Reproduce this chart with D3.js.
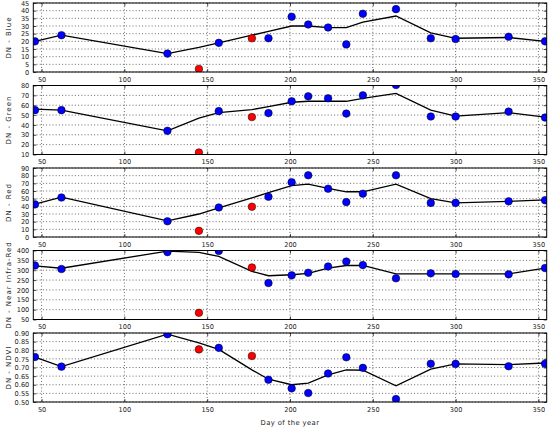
<!DOCTYPE html>
<html>
<head>
<meta charset="utf-8">
<script src="https://cdn.jsdelivr.net/npm/d3@7"></script>
<style>
  body { margin: 0; background: #fff; }
  svg { display: block; font-family: "DejaVu Sans", sans-serif; }
</style>
</head>
<body>
<svg id="grafico"></svg>
<script>
// dias de aquisição (os vermelhos são as cenas descartadas)
const days = [46, 62, 126, 145, 157, 177, 187, 201, 211, 223, 234, 244, 264, 285, 300, 332, 354];
const redDays = [145, 177];

// valores observados e a curva ajustada de cada banda
const blue = [20, 24, 12, 2, 19, 22, 22, 36, 31, 29, 18, 38, 41, 22, 21.5, 23, 20];
const blueFit = [20, 24, 12, 16, 19, 24, 26.5, 30, 30, 29, 29, 32.5, 36.5, 25.5, 22, 22.5, 20];
const green = [55, 55, 34, 12, 54, 48, 52, 64, 69, 67, 51.5, 70, 80.5, 48.5, 48.5, 53.5, 47.5];
const greenFit = [56, 55, 34, 47, 52.5, 55.5, 58.5, 63, 64, 64, 64, 67, 72, 55, 49, 52.5, 48];
const red = [42.5, 51.5, 20.5, 8, 38.5, 39.5, 52.5, 71.5, 80.5, 63, 45.5, 56.5, 80.5, 44.5, 44.5, 46.5, 48];
const redFit = [43, 52, 21, 30, 38, 51, 58, 67, 69, 63.5, 59, 59, 69, 50, 44.5, 46.5, 48.5];
const nir = [324, 306, 392, 84, 398, 314, 235, 274, 287, 319, 344, 326, 259, 284, 281, 279, 311];
const nirFit = [322, 310, 397, 390, 370, 294, 272, 277, 284, 311, 324, 324, 281, 281, 281, 281, 311];
const ndvi = [0.761, 0.705, 0.893, 0.805, 0.814, 0.767, 0.629, 0.579, 0.552, 0.665, 0.759, 0.698, 0.517, 0.722, 0.721, 0.707, 0.722];
const ndviFit = [0.76, 0.705, 0.893, 0.843, 0.805, 0.686, 0.632, 0.60, 0.609, 0.657, 0.686, 0.684, 0.594, 0.69, 0.721, 0.717, 0.726];

const xTicks = [50, 100, 150, 200, 250, 300, 350];

const paineis = [
  { nome: "DN - Blue", obs: blue, fit: blueFit, dom: [0, 45], passo: 5, fmt: d3.format("d") },
  { nome: "DN - Green", obs: green, fit: greenFit, dom: [10, 80], passo: 10, fmt: d3.format("d") },
  { nome: "DN - Red", obs: red, fit: redFit, dom: [0, 90], passo: 10, fmt: d3.format("d") },
  { nome: "DN - Near Infra-Red", obs: nir, fit: nirFit, dom: [50, 400], passo: 50, fmt: d3.format("d") },
  { nome: "DN - NDVI", obs: ndvi, fit: ndviFit, dom: [0.5, 0.9], passo: 0.05, fmt: d3.format(".2f") }
];

const width = 550, height = 427;
const left = 33.3, right = 546.7;
const topo0 = 3, passoV = 82.5, altura = 69;

let svg = d3.select("#grafico")
  .attr("width", width)
  .attr("height", height);

let x = d3.scaleLinear().domain([45, 355]).range([left, right]);

paineis.forEach(function(p, i) {
  let topo = topo0 + i * passoV;
  let base = topo + altura;
  let y = d3.scaleLinear().domain(p.dom).range([base, topo]);
  let n = Math.round((p.dom[1] - p.dom[0]) / p.passo);
  let yTicks = d3.range(n + 1).map(k => p.dom[0] + k * p.passo);

  let g = svg.append("g");

  // clip para os marcadores
  g.append("clipPath").attr("id", "clip" + i)
    .append("rect")
    .attr("x", left).attr("y", topo)
    .attr("width", right - left).attr("height", altura);

  // grade pontilhada
  g.selectAll(".gx").data(xTicks).enter().append("line")
    .attr("x1", d => x(d)).attr("x2", d => x(d))
    .attr("y1", topo).attr("y2", base)
    .attr("stroke", "#000").attr("stroke-width", 0.6)
    .attr("stroke-dasharray", "1,2.2");
  g.selectAll(".gy").data(yTicks).enter().append("line")
    .attr("x1", left).attr("x2", right)
    .attr("y1", d => y(d)).attr("y2", d => y(d))
    .attr("stroke", "#000").attr("stroke-width", 0.6)
    .attr("stroke-dasharray", "1,2.2");

  // eixos com ticks para dentro
  g.append("g").attr("transform", "translate(0," + base + ")")
    .call(d3.axisBottom(x).tickValues(xTicks).tickSizeInner(-3).tickSizeOuter(0).tickPadding(5));
  g.append("g").attr("transform", "translate(0," + topo + ")")
    .call(d3.axisTop(x).tickValues(xTicks).tickSizeInner(-3).tickSizeOuter(0).tickFormat(""));
  g.append("g").attr("transform", "translate(" + left + ",0)")
    .call(d3.axisLeft(y).tickValues(yTicks).tickFormat(p.fmt).tickSizeInner(-3).tickSizeOuter(0).tickPadding(4));
  g.append("g").attr("transform", "translate(" + right + ",0)")
    .call(d3.axisRight(y).tickValues(yTicks).tickSizeInner(-3).tickSizeOuter(0).tickFormat(""));

  g.selectAll(".domain").remove();
  g.selectAll(".tick text")
    .attr("font-family", "DejaVu Sans")
    .attr("font-size", 6.6)
    .attr("fill", "#222");
  g.selectAll(".tick line").attr("stroke", "#000").attr("stroke-width", 0.7);

  // curva ajustada
  let linha = d3.line()
    .x((d, k) => x(days[k]))
    .y(d => y(d));
  g.append("path")
    .datum(p.fit)
    .attr("d", linha)
    .attr("fill", "none")
    .attr("stroke", "#000")
    .attr("stroke-width", 1.3);

  // pontos observados
  g.append("g").attr("clip-path", "url(#clip" + i + ")")
    .selectAll("circle")
    .data(p.obs)
    .enter().append("circle")
    .attr("cx", (d, k) => x(days[k]))
    .attr("cy", d => y(d))
    .attr("r", 3.8)
    .attr("fill", (d, k) => redDays.includes(days[k]) ? "#ff0000" : "#0000ff")
    .attr("stroke", "#000")
    .attr("stroke-width", 0.5);

  // moldura
  g.append("rect")
    .attr("x", left).attr("y", topo)
    .attr("width", right - left).attr("height", altura)
    .attr("fill", "none").attr("stroke", "#000").attr("stroke-width", 1);

  // rótulo do eixo y
  g.append("text")
    .attr("transform", "translate(9.5," + (topo + altura / 2) + ") rotate(-90)")
    .attr("text-anchor", "middle")
    .attr("dominant-baseline", "middle")
    .attr("font-size", 7)
    .attr("letter-spacing", 1)
    .attr("fill", "#222")
    .text(p.nome);
});

svg.append("text")
  .attr("x", (left + right) / 2)
  .attr("y", 425)
  .attr("text-anchor", "middle")
  .attr("font-size", 6.8)
  .attr("letter-spacing", 0.4)
  .attr("fill", "#222")
  .text("Day of the year");
</script>
</body>
</html>
